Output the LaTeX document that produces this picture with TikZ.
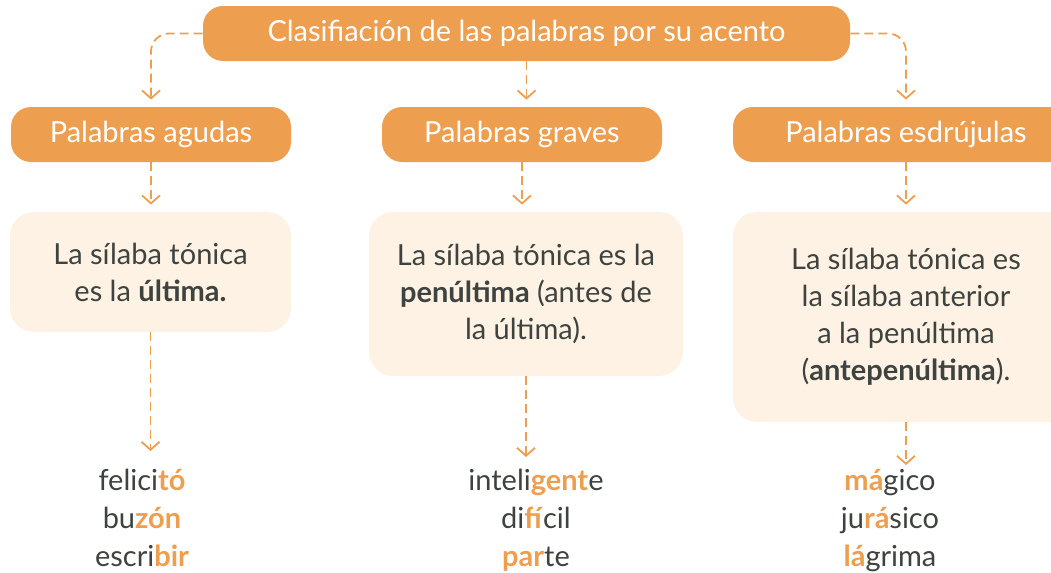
\documentclass[tikz,border=0pt]{standalone}
\usepackage{fontspec}
\setmainfont{Lato}
\usepackage{xcolor}
\usetikzlibrary{arrows.meta, positioning}

\definecolor{naranja}{HTML}{ED9E4F}
\definecolor{crema}{HTML}{FEF2E4}
\definecolor{texto}{HTML}{3E433F}
\newcommand{\tonica}[1]{\textcolor{naranja}{\textbf{#1}}}

\begin{document}
\begin{tikzpicture}[x=0.5pt, y=-0.5pt, font=\fontsize{14.5}{18.5}\selectfont,
    titulo/.style={rectangle, rounded corners=10pt, fill=naranja, text=white, minimum height=27.5pt},
    definicion/.style={rectangle, rounded corners=12pt, fill=crema, text=texto, align=center},
    ejemplo/.style={text=texto, align=center, inner sep=0pt, anchor=north, font=\fontsize{14.5}{19}\selectfont},
    flecha/.style={draw=naranja, line width=0.9pt, dash pattern=on 4.5pt off 2.5pt,
        -{Straight Barb[length=4pt, width=9pt]}, shorten >=3.5pt}]
    \useasboundingbox (0,0) rectangle (1051,573);

    % Nodes
    \node[titulo, minimum width=323.5pt] (clasif) at (526.5,33.5) {Clasifiación de las palabras por su acento};
    \node[titulo, minimum width=140pt] (agudas) at (151,134.5) {Palabras agudas};
    \node[titulo, minimum width=140pt] (graves) at (522,134.5) {Palabras graves};
    \node[titulo, minimum width=173pt] (esdrujulas) at (906,134.5) {Palabras esdrújulas};

    \node[definicion, minimum width=140.5pt, minimum height=60pt] (defagudas) at (150.5,272)
        {La sílaba tónica\\es la \textbf{última.}};
    \node[definicion, minimum width=157pt, minimum height=82pt] (defgraves) at (526,294)
        {La sílaba tónica es la\\\textbf{penúltima} (antes de\\la última).};
    \node[definicion, minimum width=173pt, minimum height=105pt] (defesdrujulas) at (906,317)
        {La sílaba tónica es\\la sílaba anterior\\a la penúltima\\(\textbf{antepenúltima}).};

    \node[ejemplo] (ejagudas) at (142,469) {felici\tonica{tó}\\bu\tonica{zón}\\escri\tonica{bir}};
    \node[ejemplo] (ejgraves) at (536,469) {inteli\tonica{gent}e\\di\tonica{fí}cil\\\tonica{par}te};
    \node[ejemplo] (ejesdrujulas) at (890,469) {\tonica{má}gico\\ju\tonica{rá}sico\\\tonica{lá}grima};

    % Dashed arrows
    \draw[flecha, rounded corners=9pt] (clasif.west) -| (agudas.north);
    \draw[flecha] (clasif.south) -- (clasif.south |- graves.north);
    \draw[flecha, rounded corners=9pt] (clasif.east) -| (esdrujulas.north);

    \draw[flecha] (agudas.south) -- (agudas.south |- defagudas.north);
    \draw[flecha] (graves.south) -- (graves.south |- defgraves.north);
    \draw[flecha] (esdrujulas.south) -- (defesdrujulas.north);

    \draw[flecha, shorten >=9pt] (defagudas.south) -- (defagudas.south |- ejagudas.north);
    \draw[flecha, shorten >=6pt] (defgraves.south) -- (defgraves.south |- ejgraves.north);
    \draw[flecha, shorten >=2pt] (defesdrujulas.south) -- (defesdrujulas.south |- ejesdrujulas.north);
\end{tikzpicture}
\end{document}
